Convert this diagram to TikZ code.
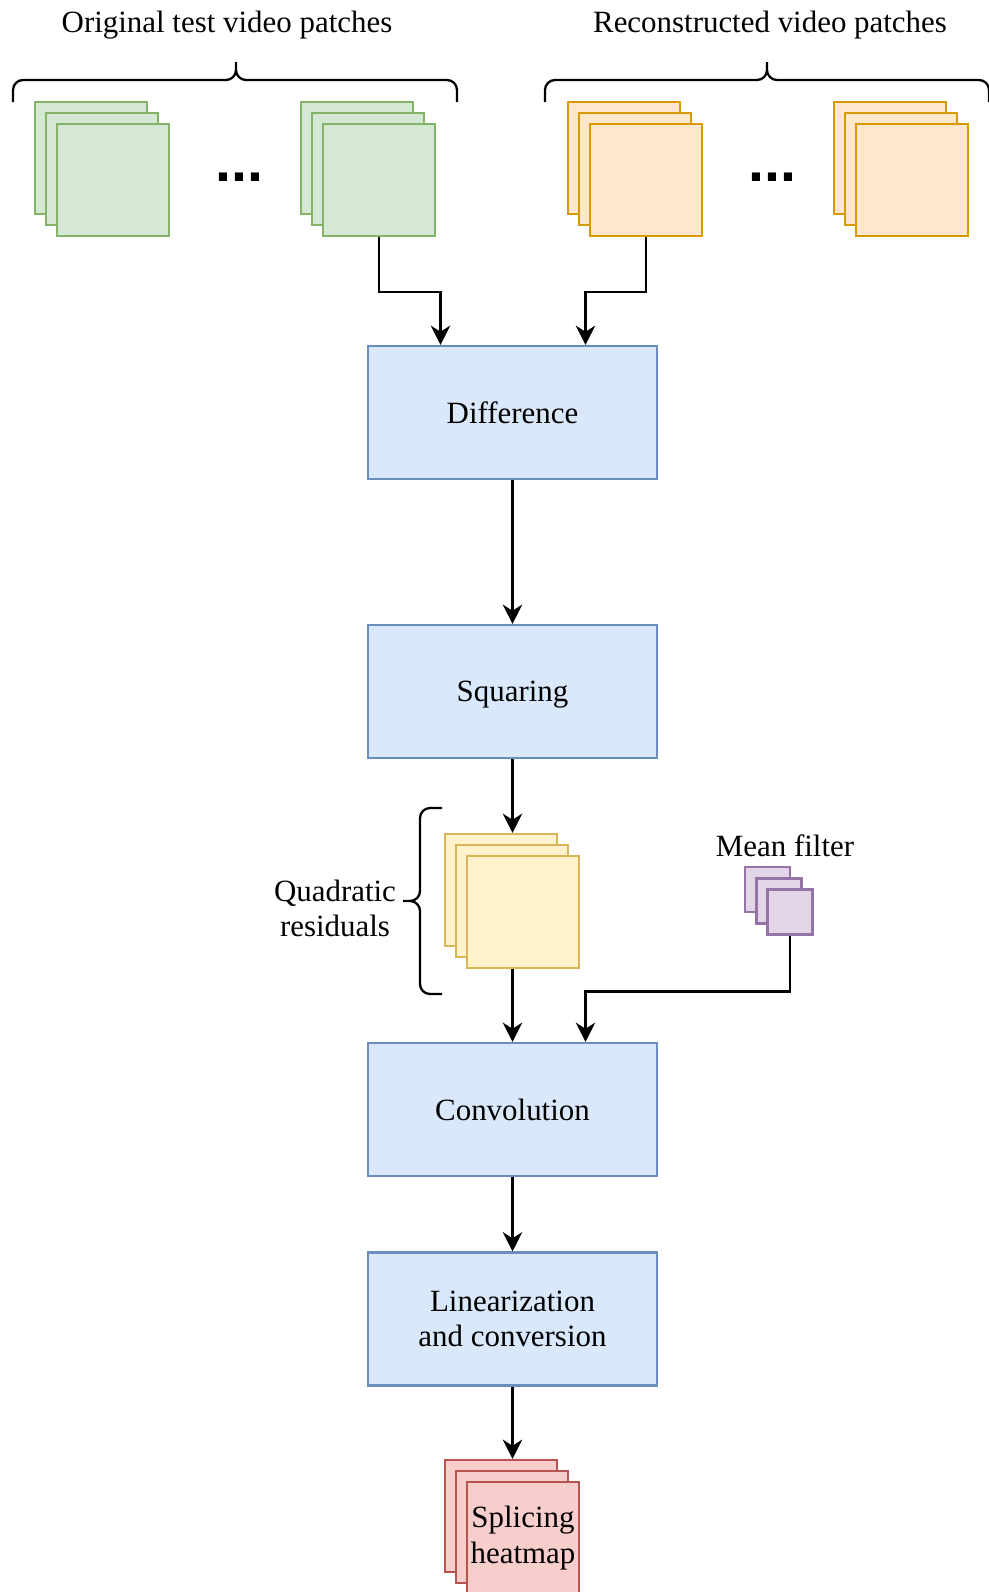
\documentclass[tikz,border=0pt]{standalone}
\usepackage{fontspec}
\setmainfont{Liberation Serif}
\newfontfamily\dotsfont{Liberation Sans}
\usepackage{tikz}
\usetikzlibrary{arrows.meta, calc}

\definecolor{gfill}{HTML}{D5E8D4}
\definecolor{gline}{HTML}{82B366}
\definecolor{ofill}{HTML}{FFE6CC}
\definecolor{oline}{HTML}{D79B00}
\definecolor{bfill}{HTML}{DAE8FC}
\definecolor{bline}{HTML}{6C8EBF}
\definecolor{yfill}{HTML}{FFF2CC}
\definecolor{yline}{HTML}{D6B656}
\definecolor{pfill}{HTML}{E1D5E7}
\definecolor{pline}{HTML}{9673A6}
\definecolor{rfill}{HTML}{F8CECC}
\definecolor{rline}{HTML}{B85450}

\begin{document}
\begin{tikzpicture}[x=0.02cm, y=-0.02cm,
        font=\fontsize{17.6}{20}\selectfont,
        patch/.style={draw, line width=1.2pt, minimum width=2.24cm, minimum height=2.24cm, inner sep=0pt, align=center},
        smallpatch/.style={patch, minimum width=0.9cm, minimum height=0.9cm},
        origpatch/.style={patch, draw=gline, fill=gfill},
        reconpatch/.style={patch, draw=oline, fill=ofill},
        quadpatch/.style={patch, draw=yline, fill=yfill},
        meanpatch/.style={smallpatch, draw=pline, fill=pfill},
        heatpatch/.style={patch, draw=rline, fill=rfill},
        block/.style={draw=bline, fill=bfill, line width=1.2pt, minimum width=5.78cm, minimum height=2.66cm, align=center},
        moredots/.style={inner sep=0pt, font=\dotsfont\bfseries\fontsize{32.7}{32.7}\selectfont},
        flow/.style={-{Stealth[length=11pt, width=11pt, inset=3.5pt]}, line width=1.3pt},
        curly/.style={line width=1.3pt, rounded corners=0.2cm}]
        \useasboundingbox (0, 0) rectangle (989, 1592);

        % input patches
        \node[origpatch] (orig1a) at (91, 158) {};
        \node[origpatch] (orig1b) at (102, 169) {};
        \node[origpatch] (orig1c) at (113, 180) {};
        \node[moredots] (dotsL) at (239, 177) {...};
        \node[origpatch] (orig2a) at (357, 158) {};
        \node[origpatch] (orig2b) at (368, 169) {};
        \node[origpatch] (orig2c) at (379, 180) {};

        \node[reconpatch] (recon1a) at (624, 158) {};
        \node[reconpatch] (recon1b) at (635, 169) {};
        \node[reconpatch] (recon1c) at (646, 180) {};
        \node[moredots] (dotsR) at (772, 177) {...};
        \node[reconpatch] (recon2a) at (890, 158) {};
        \node[reconpatch] (recon2b) at (901, 169) {};
        \node[reconpatch] (recon2c) at (912, 180) {};

        \node (origlabel) at (227, 25) {Original test video patches};
        \node (reconlabel) at (770, 25) {Reconstructed video patches};

        \draw[curly] (13, 102) -- (13, 80) -- (236, 80) -- (236, 62)
                     (457, 102) -- (457, 80) -- (236, 80) -- (236, 62);
        \draw[curly] (545, 102) -- (545, 80) -- (767, 80) -- (767, 62)
                     (989, 102) -- (989, 80) -- (767, 80) -- (767, 62);

        % processing steps
        \node[block] (diff) at (512.5, 412.5) {Difference};
        \node[block, text depth=0pt] (square) at (512.5, 691.5) {Squaring};

        \node[quadpatch] (quada) at (501, 890) {};
        \node[quadpatch] (quadb) at (512, 901) {};
        \node[quadpatch] (quadc) at (523, 912) {};
        \node[align=center] (quadlabel) at (335, 908) {Quadratic\\residuals};
        \draw[curly] (442, 808) -- (420, 808) -- (420, 901) -- (403, 901)
                     (442, 994) -- (420, 994) -- (420, 901) -- (403, 901);

        \node[meanpatch] (meana) at (767.5, 889.5) {};
        \node[meanpatch] (meanb) at (779, 901) {};
        \node[meanpatch] (meanc) at (790, 912) {};
        \node (meanlabel) at (785, 846) {Mean filter};

        \node[block] (conv) at (512.5, 1109.5) {Convolution};
        \node[block] (lin) at (512.5, 1319) {Linearization\\and conversion};

        \node[heatpatch] (heata) at (501, 1516) {};
        \node[heatpatch] (heatb) at (512, 1527) {};
        \node[heatpatch] (heatc) at (523, 1538) {Splicing\\heatmap};

        % connections
        \draw[flow] (orig2c.south) -- ++(0, 55) -| ($(diff.north) + (-72, 0)$);
        \draw[flow] (recon1c.south) -- ++(0, 55) -| ($(diff.north) + (73, 0)$);
        \draw[flow] (diff) -- (square);
        \draw[flow] (square.south) -- (square.south |- quada.north);
        \draw[flow] (quadc.south -| conv.north) -- (conv.north);
        \draw[flow] (meanc.south) -- ++(0, 56) -| ($(conv.north) + (73, 0)$);
        \draw[flow] (conv) -- (lin);
        \draw[flow] (lin.south) -- (lin.south |- heata.north);
\end{tikzpicture}
\end{document}
